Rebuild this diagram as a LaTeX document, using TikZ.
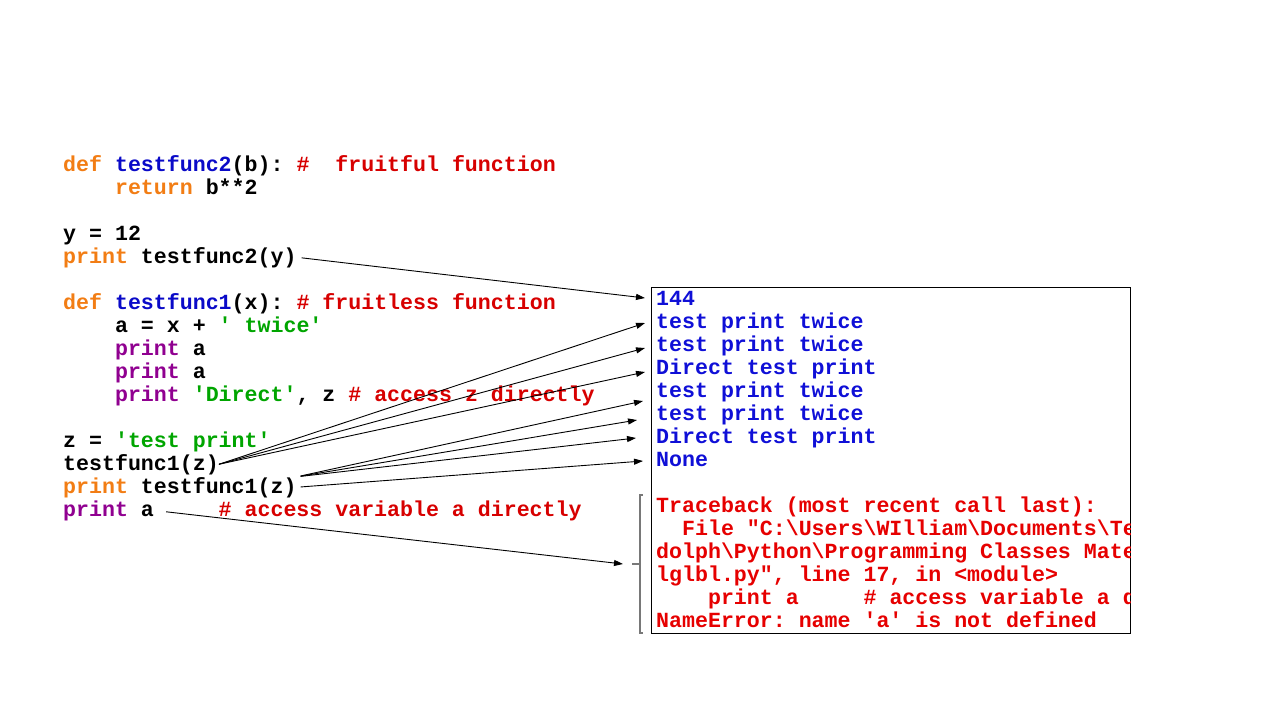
\documentclass[tikz,border=0pt]{standalone}
\usepackage{fontspec}
\setmonofont{Liberation Mono}
\usetikzlibrary{arrows.meta}
\definecolor{kworange}{RGB}{242, 125, 20}
\definecolor{defblue}{RGB}{10, 10, 200}
\definecolor{bipurple}{RGB}{144, 0, 144}
\definecolor{cmtred}{RGB}{215, 0, 0}
\definecolor{strgreen}{RGB}{0, 165, 0}
\definecolor{outblue}{RGB}{15, 15, 215}
\definecolor{errred}{RGB}{230, 0, 0}
\definecolor{bracegray}{RGB}{120, 120, 120}
\newcommand{\codefont}{\fontsize{21.6}{23}\selectfont\ttfamily\bfseries}
\newcommand{\kw}[1]{\textcolor{kworange}{#1}}
\newcommand{\fn}[1]{\textcolor{defblue}{#1}}
\newcommand{\bi}[1]{\textcolor{bipurple}{#1}}
\newcommand{\cmt}[1]{\textcolor{cmtred}{#1}}
\newcommand{\str}[1]{\textcolor{strgreen}{#1}}
\tikzset{
  codeline/.style={anchor=base west, inner sep=0pt, font=\codefont},
  outline/.style={codeline, text=outblue},
  errline/.style={codeline, text=errred},
  callarrow/.style={draw=black, line width=0.9pt, -{Triangle[length=9pt, width=6pt]}}
}

\begin{document}
\begin{tikzpicture}[x=1pt, y=-1pt]
  \useasboundingbox (0,0) rectangle (1280,720);

  % Source code
  \node[codeline] (def2) at (63,171) {\kw{def} \fn{testfunc2}(b): \cmt{\#~~fruitful function}};
  \node[codeline] (ret) at (63,194) {~~~~\kw{return} b**2};
  \node[codeline] (yset) at (63,240) {y = 12};
  \node[codeline] (call2) at (63,263) {\kw{print} testfunc2(y)};
  \node[codeline] (def1) at (63,309) {\kw{def} \fn{testfunc1}(x): \cmt{\# fruitless function}};
  \node[codeline] (aset) at (63,332) {~~~~a = x + \str{' twice'}};
  \node[codeline] (pra1) at (63,355) {~~~~\bi{print} a};
  \node[codeline] (pra2) at (63,378) {~~~~\bi{print} a};
  \node[codeline] (prz) at (63,401) {~~~~\bi{print} \str{'Direct'}, z \cmt{\# access z directly}};
  \node[codeline] (zset) at (63,447) {z = \str{'test print'}};
  \node[codeline] (call1) at (63,470) {testfunc1(z)};
  \node[codeline] (call1p) at (63,493) {\kw{print} testfunc1(z)};
  \node[codeline] (pra) at (63,516) {\bi{print} a};
  \node[codeline, text=cmtred] (pracmt) at (218.5,516) {\# access variable a directly};

  % Shell output
  \draw[line width=0.9pt] (651,287) rectangle (1130,633);
  \begin{scope}
    \clip (651,287) rectangle (1130,633);
    \node[outline] (o1) at (656,305) {144};
    \node[outline] (o2) at (656,328) {test print twice};
    \node[outline] (o3) at (656,351) {test print twice};
    \node[outline] (o4) at (656,374) {Direct test print};
    \node[outline] (o5) at (656,397) {test print twice};
    \node[outline] (o6) at (656,420) {test print twice};
    \node[outline] (o7) at (656,443) {Direct test print};
    \node[outline] (o8) at (656,466) {None};
    \node[errline] (e1) at (656,512) {Traceback (most recent call last):};
    \node[errline] (e2) at (656,535) {~~File "C:\textbackslash Users\textbackslash WIlliam\textbackslash Documents\textbackslash Te};
    \node[errline] (e3) at (656,558) {dolph\textbackslash Python\textbackslash Programming Classes Mate};
    \node[errline] (e4) at (656,581) {lglbl.py", line 17, in <module>};
    \node[errline] (e5) at (656,604) {~~~~print a~~~~~\# access variable a d};
    \node[errline] (e6) at (656,627) {NameError: name 'a' is not defined};
  \end{scope}

  % Traceback bracket
  \draw[bracegray, line width=1.3pt] (643,495) -- (640,495) -- (640,633) -- (643,633);
  \draw[bracegray, line width=1.3pt] (632,564) -- (640,564);

  % Arrow ends
  \coordinate (in1) at (645,298);
  \coordinate (in2) at (645,323);
  \coordinate (in3) at (645,348);
  \coordinate (in4) at (645,372);
  \coordinate (in5) at (643,401);
  \coordinate (in6) at (637,420);
  \coordinate (in7) at (636,438);
  \coordinate (in8) at (643,461);
  \coordinate (in9) at (623,564);

  % Calls to output
  \draw[callarrow, shorten <=5pt] (call2.east) -- (in1);
  \foreach \t in {in2, in3, in4}
    \draw[callarrow] (call1.east) -- (\t);
  \foreach \t in {in5, in6, in7}
    \draw[callarrow, shorten <=4pt] (call1p.north east) -- (\t);
  \draw[callarrow, shorten <=4pt] (call1p.east) -- (in8);
  \draw[callarrow, shorten <=12pt] (pra.east) -- (in9);
\end{tikzpicture}
\end{document}
